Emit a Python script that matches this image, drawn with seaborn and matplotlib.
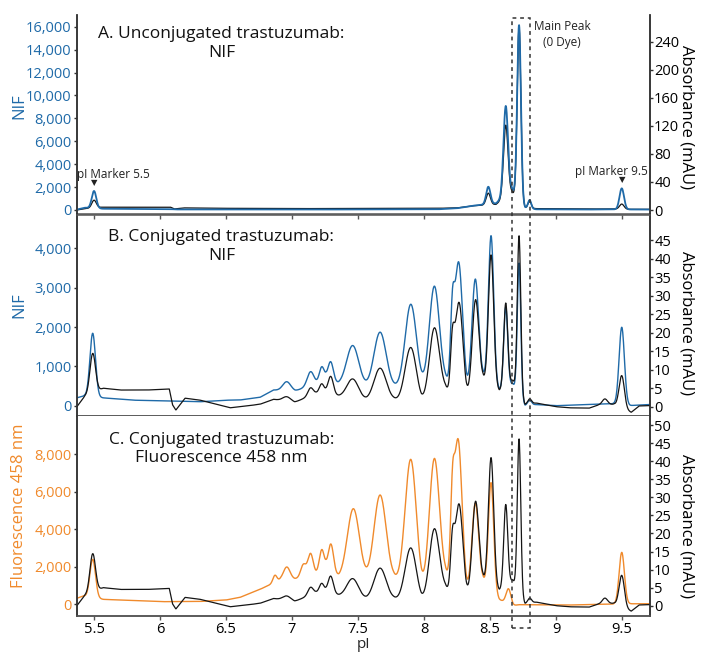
import numpy as np
import pandas as pd
import matplotlib
matplotlib.use("Agg")
import matplotlib.pyplot as plt
import seaborn as sns
from matplotlib.patches import Rectangle
from matplotlib.transforms import blended_transform_factory
from matplotlib.ticker import FuncFormatter

# ---------------- data (pI axis) ----------------
# Each trace: points read on the trace between peaks (knots) and peak tops (apex pI, apex value, width)
# Panel A: unconjugated, NIF (left) and absorbance mAU (right)
a_nif_knot_x = [5.37, 5.43, 5.57, 6.08, 6.12, 7.0, 8.1, 8.25, 8.37, 8.545, 8.664, 8.765, 8.85, 9.2, 9.44, 9.56, 9.71]
a_nif_knot_y = [40, 200, 110, 80, 50, 40, 60, 150, 375, 580, 2040, 290, 60, 40, 60, 50, 40]
a_nif_peak_x = [5.50, 8.487, 8.619, 8.720, 8.800, 9.498]
a_nif_peak_y = [1660, 2030, 9080, 16150, 870, 1890]
a_nif_peak_w = [0.017, 0.016, 0.017, 0.014, 0.012, 0.017]

a_abs_knot_x = [5.37, 5.43, 5.56, 6.08, 6.11, 6.18, 6.4, 7.0, 8.1, 8.25, 8.37, 8.545, 8.664, 8.765, 8.85, 9.2, 9.44, 9.56, 9.71]
a_abs_knot_y = [0, 2, 4, 4, 1.5, 3, 2.5, 2, 2.4, 3, 6, 8, 28.5, 5, 2, 1.5, 1.5, 1, 1]
a_abs_peak_x = [5.50, 8.487, 8.619, 8.720, 8.800, 9.498]
a_abs_peak_y = [14, 24, 121, 262, 13, 8.5]
a_abs_peak_w = [0.017, 0.016, 0.017, 0.014, 0.012, 0.017]

# Panel B: conjugated, NIF
b_nif_knot_x = [5.37, 5.43, 5.57, 5.8, 6.1, 6.3, 6.5, 6.606, 6.758, 6.86, 7.023, 7.18, 7.258, 7.35, 7.566,
                7.768, 7.98, 8.16, 8.323, 8.445, 8.57, 8.672, 8.765, 8.85, 9.0, 9.3, 9.44, 9.56, 9.71]
b_nif_knot_y = [200, 280, 200, 140, 120, 100, 140, 145, 214, 400, 400, 672, 865, 611, 660,
                610, 908, 865, 824, 934, 443, 570, 18, 30, 0, 40, 80, 20, 30]
b_nif_peak_x = [5.49, 6.96, 7.14, 7.225, 7.293, 7.46, 7.667, 7.90, 8.078, 8.215, 8.262, 8.388, 8.508, 8.619, 8.72, 8.80, 9.498]
b_nif_peak_y = [1842, 610, 865, 992, 1120, 1530, 1870, 2580, 3040, 2950, 3660, 3220, 4325, 2510, 3630, 145, 1995]
b_nif_peak_w = [0.021, 0.03, 0.025, 0.018, 0.02, 0.046, 0.046, 0.043, 0.038, 0.014, 0.03, 0.025, 0.02, 0.015, 0.013, 0.015, 0.02]

# Panels B and C: conjugated, absorbance mAU (same trace in both panels)
bc_abs_knot_x = [5.37, 5.43, 5.57, 5.7, 5.9, 6.07, 6.095, 6.12, 6.19, 6.3, 6.4, 6.53, 6.68, 6.76, 6.86, 7.02,
                 7.18, 7.258, 7.36, 7.566, 7.768, 7.98, 8.16, 8.318, 8.445, 8.57, 8.672, 8.765, 8.85, 9.0,
                 9.1, 9.25, 9.32, 9.44, 9.57, 9.63, 9.71]
bc_abs_knot_y = [0, 3.0, 5.0, 4.5, 4.5, 4.8, 0.5, -0.9, 2.3, 1.8, 0.9, -0.3, 0.3, 0.7, 2.0, 1.35,
                 4.0, 5.2, 3.2, 2.7, 2.7, 3.6, 6.3, 7.2, 9.3, 4.6, 7.2, 0.7, 1.0, 0.0,
                 -0.3, -0.4, 0.5, 0.8, -1.5, 0.2, 0.3]
bc_abs_peak_x = [5.49, 6.96, 7.14, 7.225, 7.293, 7.46, 7.667, 7.90, 8.078, 8.215, 8.265, 8.39, 8.508, 8.619, 8.72, 8.80, 9.37, 9.498]
bc_abs_peak_y = [14.4, 2.7, 5.1, 6.2, 8.2, 7.5, 10.4, 16.0, 21.3, 21.5, 28.2, 28.9, 41.0, 28.0, 46.2, 2.1, 2.1, 8.4]
bc_abs_peak_w = [0.021, 0.03, 0.02, 0.018, 0.02, 0.044, 0.046, 0.043, 0.038, 0.014, 0.03, 0.025, 0.02, 0.015, 0.013, 0.015, 0.02, 0.02]

# Panel C: conjugated, fluorescence 458 nm
c_fl_knot_x = [5.37, 5.42, 5.57, 5.8, 6.0, 6.3, 6.5, 6.606, 6.758, 6.915, 7.02, 7.18, 7.258, 7.355, 7.566,
               7.768, 7.98, 8.16, 8.318, 8.445, 8.57, 8.675, 8.72, 8.9, 9.1, 9.3, 9.44, 9.56, 9.71]
c_fl_knot_y = [320, 450, 265, 200, 140, 150, 230, 370, 800, 1450, 1390, 1830, 2400, 1640, 2000,
               1775, 1950, 2130, 1690, 1600, 300, 50, -20, -30, -40, 0, 50, 50, 30]
c_fl_peak_x = [5.49, 6.87, 6.96, 7.086, 7.14, 7.225, 7.295, 7.465, 7.667, 7.90, 8.078, 8.215, 8.258, 8.388, 8.508, 8.64, 9.498]
c_fl_peak_y = [2400, 1550, 1990, 2150, 2720, 2920, 3215, 5100, 5830, 7730, 7780, 7300, 8830, 5390, 6490, 830, 2770]
c_fl_peak_w = [0.021, 0.015, 0.025, 0.02, 0.02, 0.018, 0.02, 0.046, 0.046, 0.043, 0.038, 0.014, 0.03, 0.025, 0.02, 0.018, 0.02]

x_ticks = [5.5, 6.0, 6.5, 7.0, 7.5, 8.0, 8.5, 9.0, 9.5]
x_tick_labels = ["5.5", "6", "6.5", "7", "7.5", "8", "8.5", "9", "9.5"]
a_left_ticks = [0, 2000, 4000, 6000, 8000, 10000, 12000, 14000, 16000]
a_right_ticks = [0, 40, 80, 120, 160, 200, 240]
b_left_ticks = [0, 1000, 2000, 3000, 4000]
b_right_ticks = [0, 5, 10, 15, 20, 25, 30, 35, 40, 45]
c_left_ticks = [0, 2000, 4000, 6000, 8000]
c_right_ticks = [0, 5, 10, 15, 20, 25, 30, 35, 40, 45, 50]
marker_pi = [5.5, 9.5]
main_peak_box = [8.665, 8.80]


def build_trace(grid, kx, ky, px, py, pw):
    """Trace through the read knots and peak tops: linear baseline + gaussian peaks."""
    kx, ky = np.asarray(kx, float), np.asarray(ky, float)
    px, py, pw = np.asarray(px, float), np.asarray(py, float), np.asarray(pw, float)
    nk = len(kx)

    def hat(x):
        B = np.zeros((len(x), nk))
        for k in range(nk):
            e = np.zeros(nk)
            e[k] = 1.0
            B[:, k] = np.interp(x, kx, e)
        return B

    def gau(x):
        return np.exp(-0.5 * ((x[:, None] - px[None, :]) / pw[None, :]) ** 2)

    pts = np.concatenate([kx, px])
    vals = np.concatenate([ky, py])
    M = np.hstack([hat(pts), gau(pts)])
    coef = np.linalg.solve(M, vals)
    return hat(grid) @ coef[:nk] + gau(grid) @ coef[nk:]


grid = np.linspace(5.37, 9.71, 2400)
df = pd.DataFrame({
    "pI": grid,
    "a_nif": build_trace(grid, a_nif_knot_x, a_nif_knot_y, a_nif_peak_x, a_nif_peak_y, a_nif_peak_w),
    "a_abs": build_trace(grid, a_abs_knot_x, a_abs_knot_y, a_abs_peak_x, a_abs_peak_y, a_abs_peak_w),
    "b_nif": build_trace(grid, b_nif_knot_x, b_nif_knot_y, b_nif_peak_x, b_nif_peak_y, b_nif_peak_w),
    "bc_abs": build_trace(grid, bc_abs_knot_x, bc_abs_knot_y, bc_abs_peak_x, bc_abs_peak_y, bc_abs_peak_w),
    "c_fl": build_trace(grid, c_fl_knot_x, c_fl_knot_y, c_fl_peak_x, c_fl_peak_y, c_fl_peak_w),
})

# ---------------- styling ----------------
sns.set_theme(style="ticks")
plt.rcParams['font.family'] = ['Open Sans', 'DejaVu Sans']
plt.rcParams['axes.linewidth'] = 1.1
plt.rcParams['axes.edgecolor'] = '#333333'

BLUE = '#1f6aa8'
ORANGE = '#f08a2c'
BLACK = '#151515'
TICK_FS = 10.5
LAB_FS = 12.0
TITLE_FS = 12.5
ANN_FS = 8.5

fig = plt.figure(figsize=(7.01, 6.52), dpi=100)
L, W = 77 / 701, (650 - 77) / 701
rects = [(L, 1 - 214.5 / 652, W, (214.5 - 15) / 652),
         (L, 1 - 416 / 652, W, (416 - 214.5) / 652),
         (L, 1 - 616 / 652, W, (616 - 416) / 652)]

comma = FuncFormatter(lambda v, p: f"{v:,.0f}")

panels = [
    dict(left="a_nif", right="a_abs", color=BLUE, ylabel="NIF",
         lim=(-393, 17020), rlim=(-6.4, 278), lt=a_left_ticks, rt=a_right_ticks,
         title="A. Unconjugated trastuzumab:\nNIF", ty=0.857, left_on_top=True, lw=1.3,
         ly=0.545, ry=0.49),
    dict(left="b_nif", right="bc_abs", color=BLUE, ylabel="NIF",
         lim=(-262, 4862), rlim=(-2.51, 51.9), lt=b_left_ticks, rt=b_right_ticks,
         title="B. Conjugated trastuzumab:\nNIF", ty=0.839, left_on_top=False, lw=1.0,
         ly=0.55, ry=0.46),
    dict(left="c_fl", right="bc_abs", color=ORANGE, ylabel="Fluorescence 458 nm",
         lim=(-624, 10043), rlim=(-2.85, 52.5), lt=c_left_ticks, rt=c_right_ticks,
         title="C. Conjugated trastuzumab:\nFluorescence 458 nm", ty=0.835, left_on_top=False, lw=1.0,
         ly=0.55, ry=0.45),
]

axes = []
for i, (rect, p) in enumerate(zip(rects, panels)):
    ax = fig.add_axes(rect)
    ax2 = ax.twinx()
    sns.lineplot(data=df, x="pI", y=p["left"], ax=ax, color=p["color"], lw=p["lw"],
                 estimator=None, errorbar=None)
    sns.lineplot(data=df, x="pI", y=p["right"], ax=ax2, color=BLACK, lw=0.9,
                 estimator=None, errorbar=None)
    if p["left_on_top"]:
        ax.set_zorder(ax2.get_zorder() + 1)
        ax.patch.set_visible(False)
    ax.set_xlim(5.371, 9.712)
    ax.set_ylim(*p["lim"])
    ax2.set_ylim(*p["rlim"])
    ax.set_yticks(p["lt"])
    ax.yaxis.set_major_formatter(comma)
    ax2.set_yticks(p["rt"])
    ax.set_xticks(x_ticks)
    if i == 2:
        ax.set_xticklabels(x_tick_labels)
        ax.set_xlabel("pI", fontsize=11)
        ax.xaxis.label.set_va('center')
        ax.xaxis.set_label_coords(0.5, -0.142)
    else:
        ax.set_xticklabels([])
        ax.set_xlabel("")
    for a in (ax, ax2):
        a.spines['bottom'].set_color('#555555')
        a.spines['top'].set_visible(False)
    ax.tick_params(axis='x', length=3, width=1, labelsize=10.5, pad=1.5, colors='#555555',
                   labelcolor='black')
    ax.tick_params(axis='y', length=2.5, width=1, labelsize=TICK_FS, pad=1.5, colors='#333333',
                   labelcolor=p["color"])
    ax2.tick_params(axis='y', length=2.5, width=1, labelsize=TICK_FS, pad=0.5, colors='#333333',
                    labelcolor='black')
    ax.set_ylabel(p["ylabel"], color=p["color"], fontsize=LAB_FS)
    ax.yaxis.label.set_va('center')
    ax.yaxis.set_label_coords(-0.101, p["ly"])
    ax2.set_ylabel("Absorbance (mAU)", color='black', fontsize=LAB_FS, rotation=270)
    ax2.yaxis.label.set_va('center')
    ax2.yaxis.set_label_coords(1.064, p["ry"])
    ax.text(0.252, p["ty"], p["title"], transform=ax.transAxes, ha='center', va='center',
            fontsize=TITLE_FS, linespacing=1.25, color='#111111')
    axes.append((ax, ax2))

# annotations in panel A
axA = axes[0][0]
trA = blended_transform_factory(axA.transData, axA.transAxes)
axA.text(marker_pi[0] + 0.15, 0.198, "pI Marker 5.5", transform=trA, ha='center', va='center',
         fontsize=ANN_FS, color='#222222')
axA.text(marker_pi[0], 0.155, "\u25BC", transform=trA, ha='center', va='center', fontsize=6, color='#222222')
axA.text(marker_pi[1] - 0.083, 0.218, "pI Marker 9.5", transform=trA, ha='center', va='center',
         fontsize=ANN_FS, color='#222222')
axA.text(marker_pi[1], 0.170, "\u25BC", transform=trA, ha='center', va='center', fontsize=6, color='#222222')
axA.text(9.045, 0.94, "Main Peak", transform=trA, ha='center', va='center', fontsize=ANN_FS, color='#222222')
axA.text(9.045, 0.86, "(0 Dye)", transform=trA, ha='center', va='center', fontsize=ANN_FS, color='#222222')

# dashed box around the main peak across all panels
axC = axes[2][0]
trBox = blended_transform_factory(axC.transData, fig.transFigure)
box = Rectangle((main_peak_box[0], 1 - 628 / 652), main_peak_box[1] - main_peak_box[0],
                (628 - 18) / 652, transform=trBox, fill=False, ls=(0, (2.5, 2.5)),
                lw=1.1, ec='#333333', clip_on=False, zorder=20)
fig.add_artist(box)

fig.savefig("out.png", dpi=100)
